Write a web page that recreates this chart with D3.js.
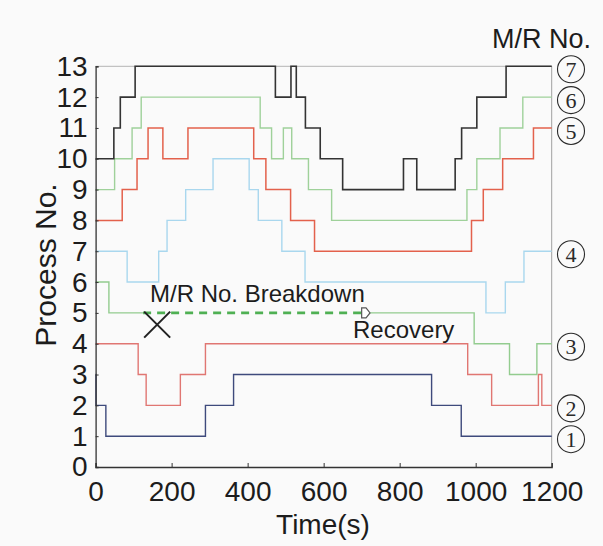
<!DOCTYPE html>
<html>
<head>
<meta charset="utf-8">
<script src="https://cdn.jsdelivr.net/npm/d3@7"></script>
<style>
  body { margin: 0; background: #fafafa; }
  svg { display: block; }
  text { font-family: "Liberation Sans", Arial, sans-serif; fill: #1c1c1c; }
</style>
</head>
<body>
<svg id="chart" width="603" height="546"></svg>
<script>
// time (s) where each step starts, and the process number held from there
const mr1Times = [0, 1, 27, 289, 363, 884, 962, 1200];
const mr1Proc  = [3, 2, 1, 2, 3, 2, 1, 1];

const mr2Times = [0, 112, 133, 223, 289, 979, 1042, 1165, 1174, 1200];
const mr2Proc  = [4, 3, 2, 3, 4, 3, 2, 3, 2, 2];

// M/R 3 breaks down, so its line is split in two around the dashed part
const mr3TimesA = [0, 35, 125];
const mr3ProcA  = [6, 5, 5];
const mr3TimesB = [722, 996, 1089, 1161, 1200];
const mr3ProcB  = [5, 4, 3, 4, 4];

const mr4Times = [0, 83, 166, 188, 237, 309, 404, 428, 490, 551, 1027, 1078, 1127, 1200];
const mr4Proc  = [7, 6, 7, 8, 9, 10, 9, 8, 7, 6, 5, 6, 7, 7];

const mr5Times = [0, 70, 109, 138, 177, 243, 416, 448, 513, 576, 989, 1020, 1071, 1152, 1200];
const mr5Proc  = [8, 9, 10, 11, 10, 11, 10, 9, 8, 7, 8, 9, 10, 11, 11];

const mr6Times = [0, 50, 96, 120, 433, 463, 494, 516, 560, 621, 977, 1003, 1064, 1124, 1200];
const mr6Proc  = [9, 10, 11, 12, 11, 10, 11, 10, 9, 8, 9, 10, 11, 12, 12];

const mr7Times = [0, 48, 65, 104, 473, 514, 528, 552, 591, 650, 810, 845, 946, 963, 1003, 1080, 1200];
const mr7Proc  = [10, 11, 12, 13, 12, 13, 12, 11, 10, 9, 10, 9, 10, 11, 12, 13, 13];

const breakdown = { time: 162, proc: 4.62, dashFrom: 125, dashTo: 700, recovery: 700, recoveryEnd: 722, proc5: 5 };

const mrNumbers = ['1', '2', '3', '4', '5', '6', '7'];
const mrEnd     = [1, 2, 4, 7, 11, 12, 13];

const xTicks = [0, 200, 400, 600, 800, 1000, 1200];
const yTicks = d3.range(0, 14);

const svg = d3.select('#chart');

const x = d3.scaleLinear().domain([0, 1200]).range([95.6, 551.7]);
const y = d3.scaleLinear().domain([0, 13]).range([467, 66.3]);

const zip = (ts, ps) => ts.map((t, i) => ({ t, p: ps[i] }));

const line = d3.line()
  .x(d => x(d.t))
  .y(d => y(d.p))
  .curve(d3.curveStepAfter);

// frame: top and right are pale
svg.append('line')
  .attr('x1', x(0)).attr('x2', x(1200)).attr('y1', y(13)).attr('y2', y(13))
  .attr('stroke', '#b5b5b5').attr('stroke-width', 1);
svg.append('line')
  .attr('x1', x(1200)).attr('x2', x(1200)).attr('y1', y(13)).attr('y2', y(0))
  .attr('stroke', '#a0a0a0').attr('stroke-width', 1);

const series = [
  { data: zip(mr1Times, mr1Proc), color: '#3e4a7c', w: 1.4 },
  { data: zip(mr2Times, mr2Proc), color: '#e07672', w: 1.4 },
  { data: zip(mr3TimesA, mr3ProcA), color: '#93cc8f', w: 1.4 },
  { data: zip(mr3TimesB, mr3ProcB), color: '#93cc8f', w: 1.4 },
  { data: zip(mr4Times, mr4Proc), color: '#a9d7ee', w: 1.4 },
  { data: zip(mr5Times, mr5Proc), color: '#e3614c', w: 1.5 },
  { data: zip(mr6Times, mr6Proc), color: '#9fd19a', w: 1.4 },
  { data: zip(mr7Times, mr7Proc), color: '#333333', w: 1.6 }
];

svg.append('g')
  .selectAll('path')
  .data(series)
  .enter()
  .append('path')
  .attr('fill', 'none')
  .attr('stroke', d => d.color)
  .attr('stroke-width', d => d.w)
  .attr('d', d => line(d.data));

// breakdown -> recovery dashed segment
svg.append('line')
  .attr('x1', x(breakdown.dashFrom)).attr('x2', x(breakdown.dashTo))
  .attr('y1', y(breakdown.proc5)).attr('y2', y(breakdown.proc5))
  .attr('stroke', '#4fb053').attr('stroke-width', 2.6)
  .attr('stroke-dasharray', '8,6');

// recovery marker (pentagon pointing right)
const rx0 = x(breakdown.recovery), rx1 = x(breakdown.recoveryEnd), ry = y(breakdown.proc5);
svg.append('path')
  .attr('d', `M${rx0},${ry - 5}L${rx1 - 4},${ry - 5}L${rx1},${ry}L${rx1 - 4},${ry + 5}L${rx0},${ry + 5}Z`)
  .attr('fill', '#ffffff').attr('stroke', '#555').attr('stroke-width', 1.2);

// breakdown cross
const cx = x(breakdown.time), cy = y(breakdown.proc), s = 13;
svg.append('path')
  .attr('d', `M${cx - s},${cy - s}L${cx + s},${cy + s}M${cx - s},${cy + s}L${cx + s},${cy - s}`)
  .attr('stroke', '#222').attr('stroke-width', 2).attr('fill', 'none');

// axes with inward ticks
const yAxis = svg.append('g')
  .attr('transform', `translate(${x(0)},0)`)
  .call(d3.axisLeft(y).tickValues(yTicks).tickSize(-3).tickPadding(8).tickFormat(d3.format('d')));
const xAxis = svg.append('g')
  .attr('transform', `translate(0,${y(0)})`)
  .call(d3.axisBottom(x).tickValues(xTicks).tickSize(-4).tickPadding(14).tickFormat(d3.format('d')));

[yAxis, xAxis].forEach(g => {
  g.select('.domain').attr('stroke', '#333').attr('stroke-width', 1.3);
  g.selectAll('.tick line').attr('stroke', '#333');
  g.selectAll('.tick text')
    .attr('fill', '#1c1c1c')
    .style('font-size', '28px')
    .style('font-family', '"Liberation Sans", Arial, sans-serif');
});

svg.append('text')
  .attr('x', 323).attr('y', 534)
  .attr('text-anchor', 'middle')
  .style('font-size', '28px')
  .text('Time(s)');

svg.append('text')
  .attr('transform', 'translate(56,265) rotate(-90)')
  .attr('text-anchor', 'middle')
  .style('font-size', '30px')
  .text('Process No.');

svg.append('text')
  .attr('x', 492).attr('y', 48)
  .style('font-size', '27px')
  .text('M/R No.');

svg.append('text')
  .attr('x', 150).attr('y', 302)
  .style('font-size', '24px')
  .text('M/R No. Breakdown');

svg.append('text')
  .attr('x', 353).attr('y', 338)
  .style('font-size', '24px')
  .text('Recovery');

// circled M/R numbers at the right end of each line
const labels = svg.append('g')
  .selectAll('g')
  .data(mrNumbers)
  .enter()
  .append('g')
  .attr('transform', (d, i) => `translate(571,${y(mrEnd[i]) + 3})`);

labels.append('circle')
  .attr('r', 13.5)
  .attr('fill', 'none')
  .attr('stroke', '#2a2a2a')
  .attr('stroke-width', 1.1);

labels.append('text')
  .attr('text-anchor', 'middle')
  .attr('dy', '0.35em')
  .style('font-family', '"Liberation Serif", "Times New Roman", serif')
  .style('font-size', '22px')
  .style('fill', '#2a2a2a')
  .text(d => d);
</script>
</body>
</html>
